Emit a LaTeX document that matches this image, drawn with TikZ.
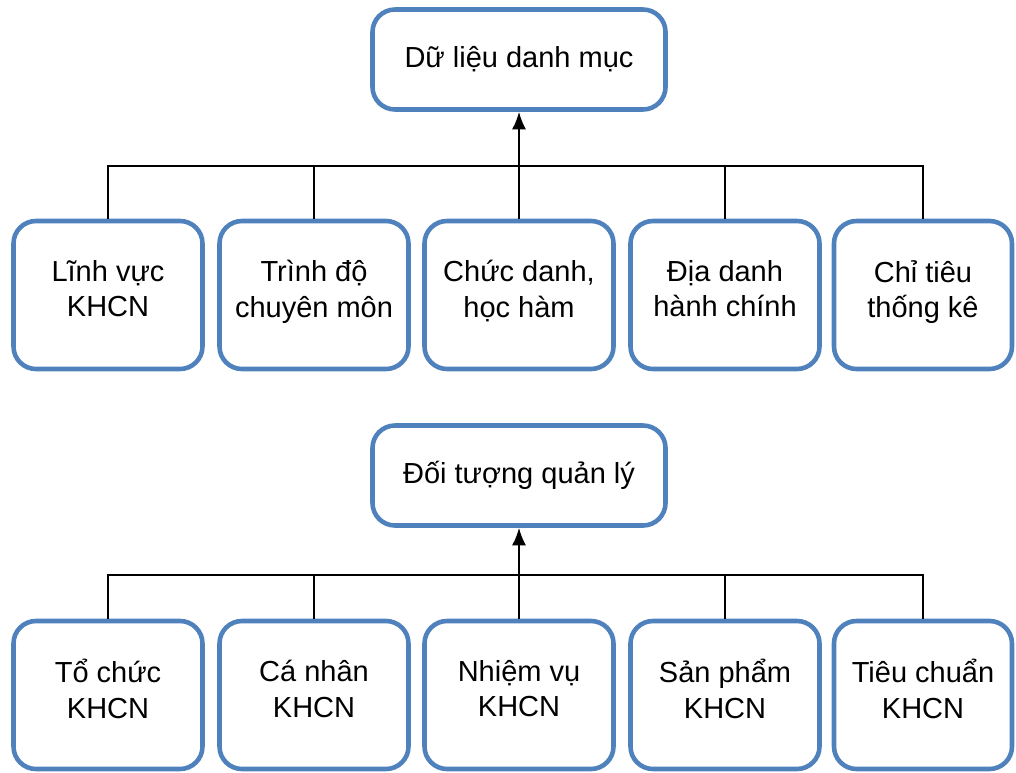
\documentclass[tikz,border=0pt]{standalone}
\usepackage{fontspec}
\setmainfont{Liberation Sans}
\usetikzlibrary{arrows.meta}
\definecolor{boxblue}{RGB}{79,129,189}
\begin{document}
\begin{tikzpicture}[
    group/.style ={rectangle, rounded corners=0.45cm, draw=boxblue, line width=2.6pt, fill=white, minimum width=5.86cm, minimum height=2cm, align=center, font=\fontsize{16.5}{20}\selectfont},
    member/.style ={group, minimum width=3.78cm, minimum height=2.96cm, execute at begin node=\rule{0pt}{22pt}, execute at end node=\rule[-7pt]{0pt}{7pt}},
    link/.style ={line width=1.2pt}]
   \useasboundingbox (0,0) rectangle (20.32,-15.44);
   % upper tree
   \node[group] (dm) at (10.38,-1.19) {Dữ liệu danh mục};
   \node[member] (l1) at (2.16,-5.9) {Lĩnh vực\\KHCN};
   \node[member] (l2) at (6.28,-5.9) {Trình độ\\chuyên môn};
   \node[member] (l3) at (10.38,-5.9) {Chức danh,\\học hàm};
   \node[member] (l4) at (14.5,-5.9) {Địa danh\\hành chính};
   \node[member, minimum width=3.56cm] (l5) at (18.46,-5.9) {Chỉ tiêu\\thống kê};
   \coordinate (barA) at (10.38,-3.32);
   \draw[link] (l1.north) -- (l1.north |- barA) -- (l5.north |- barA) -- (l5.north);
   \foreach \n in {l2,l4}
     \draw[link] (\n.north) -- (\n.north |- barA);
   \draw[link, -{Latex[length=10pt,width=8pt]}] (l3.north) -- (dm.south);
   % lower tree
   \node[group] (dt) at (10.38,-9.51) {Đối tượng quản lý};
   \node[member] (k1) at (2.16,-13.9) {Tổ chức\\KHCN};
   \node[member] (k2) at (6.28,-13.9) {Cá nhân\\KHCN};
   \node[member] (k3) at (10.38,-13.9) {Nhiệm vụ\\KHCN};
   \node[member] (k4) at (14.5,-13.9) {Sản phẩm\\KHCN};
   \node[member, minimum width=3.56cm] (k5) at (18.46,-13.9) {Tiêu chuẩn\\KHCN};
   \coordinate (barB) at (10.38,-11.5);
   \draw[link] (k1.north) -- (k1.north |- barB) -- (k5.north |- barB) -- (k5.north);
   \foreach \n in {k2,k4}
     \draw[link] (\n.north) -- (\n.north |- barB);
   \draw[link, -{Latex[length=10pt,width=8pt]}] (k3.north) -- (dt.south);
 \end{tikzpicture}
\end{document}
